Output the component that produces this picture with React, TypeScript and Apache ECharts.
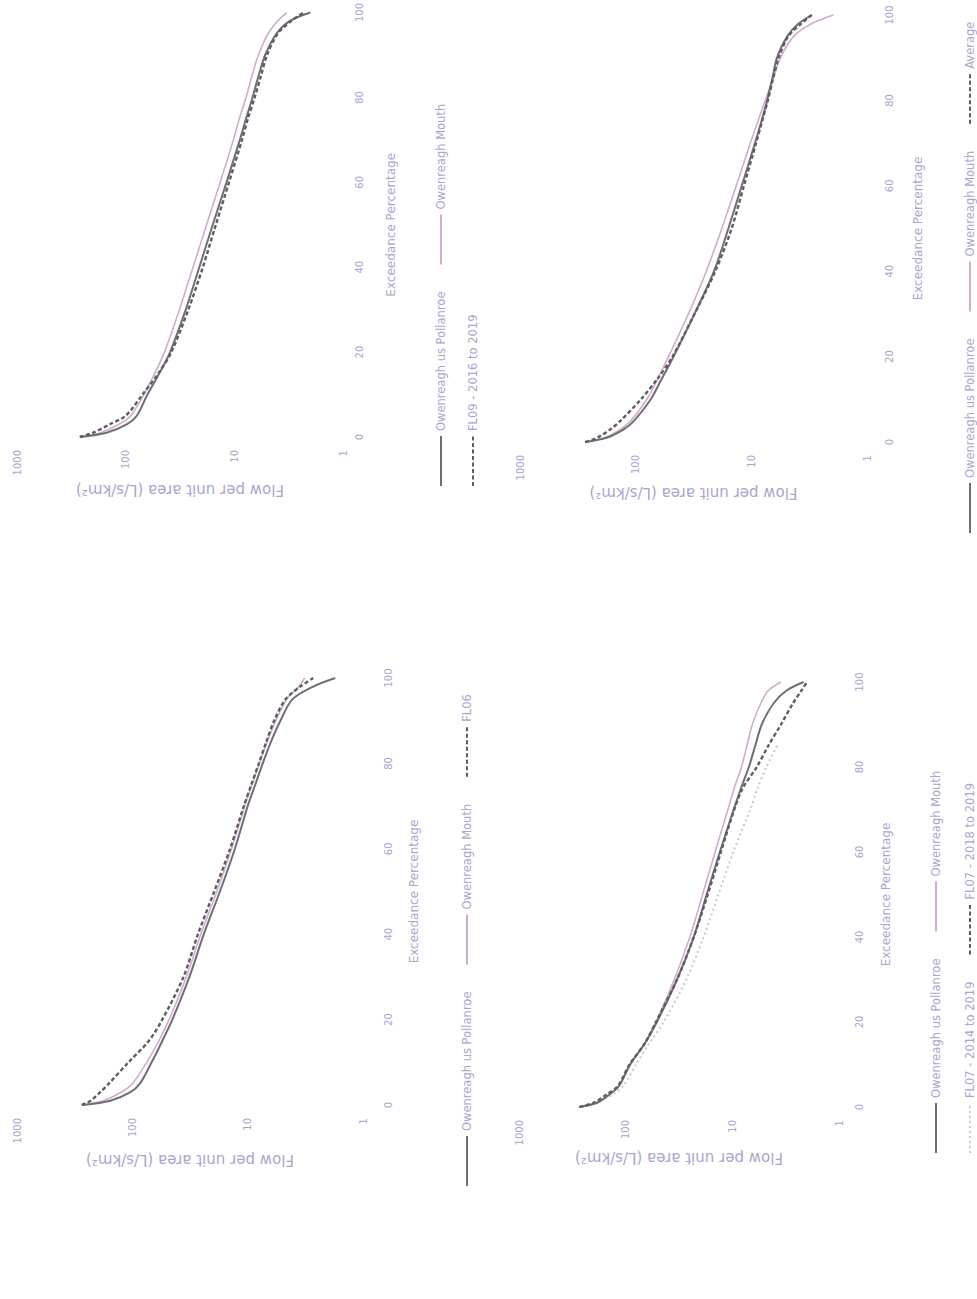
import React, { useEffect, useRef } from "react";
import * as echarts from "echarts";

// Exceedance percentages (x values shared by every curve)
const EXCEEDANCE = [0, 1, 3, 5, 10, 15, 20, 30, 40, 50, 60, 70, 75, 80, 85, 90, 95, 98, 100];
const EXCEEDANCE_TICKS = [0, 20, 40, 60, 80, 100];
const FLOW_TICKS = [1, 10, 100, 1000];

const NAME_POLLANROE = "Owenreagh us Pollanroe";
const NAME_MOUTH = "Owenreagh Mouth";
const NAME_FL06 = "FL06";
const NAME_FL09 = "FL09 - 2016 to 2019";
const NAME_FL07A = "FL07 - 2014 to 2019";
const NAME_FL07B = "FL07 - 2018 to 2019";
const NAME_AVG = "Average";

// FL06 panel (L/s/km²)
const FL06_POLLANROE = [270, 155, 104, 86, 68, 55, 45, 32, 24, 17.4, 12.9, 10.0, 8.6, 7.4, 6.3, 5.2, 4.1, 2.7, 1.74];
const FL06_MOUTH = [270, 180, 125, 100, 75, 59, 48, 34, 25.5, 18.5, 13.8, 10.6, 9.2, 7.9, 6.8, 5.7, 4.6, 3.6, 3.2];
const FL06_SITE = [275, 230, 190, 160, 108, 72, 55, 36, 27, 19.5, 14.2, 10.8, 9.3, 8.0, 6.9, 5.9, 4.7, 3.5, 2.7];

// FL09 panel
const FL09_POLLANROE = [263, 150, 98, 79, 63, 49, 39, 28, 21, 15.8, 11.8, 8.9, 7.8, 6.8, 6.0, 5.2, 4.1, 3.1, 2.0];
const FL09_MOUTH = [255, 170, 115, 90, 68, 54, 44, 32, 24, 18, 13.5, 10.2, 9.0, 7.8, 6.9, 6.0, 4.9, 4.0, 3.3];
const FL09_SITE = [265, 200, 140, 100, 70, 50, 38, 26.5, 19.5, 14.8, 11.2, 8.5, 7.5, 6.5, 5.7, 5.0, 4.0, 3.0, 2.3];

// FL07 panel
const FL07_POLLANROE = [274, 186, 141, 115, 91, 66, 51, 33, 23, 17.4, 13.1, 9.7, 8.3, 7.0, 6.1, 5.3, 4.1, 3.1, 2.15];
const FL07_MOUTH = [270, 180, 140, 115, 90, 66, 52, 35, 25, 19, 14.5, 11, 9.6, 8.2, 7.3, 6.5, 5.4, 4.6, 3.5];
const FL07_SITE_A = [null, 190, 130, 105, 80, 60, 44, 27, 18.6, 13.5, 9.8, 6.8, 5.8, 4.8, 3.8, null, null, null, null];
const FL07_SITE_B = [270, 200, 150, 118, 92, 66, 52, 33, 23, 17, 12.8, 9.6, 8.0, 5.9, 4.6, 3.5, 2.7, 2.25, 2.0];

// Average panel
const AVG_POLLANROE = [275, 178, 126, 103, 74, 59, 47, 31, 21, 15.8, 12.1, 9.3, 8.2, 7.3, 6.6, 6.0, 4.9, 3.9, 3.0];
const AVG_MOUTH = [270, 185, 135, 110, 80, 64, 52, 35, 24.5, 18, 13.5, 10.2, 8.8, 7.6, 6.5, 5.6, 4.3, 3.0, 1.95];
const AVG_SITE = [272, 215, 165, 135, 90, 64, 48, 31, 20.5, 14.8, 11.6, 9.1, 8.1, 7.2, 6.5, 5.8, 4.8, 3.7, 3.0];

const TEXT = "#aba4cf";
const FONT = "DejaVu Sans";

const pairs = (vals: (number | null)[]) =>
  EXCEEDANCE.map((e, i) => [e, vals[i]]).filter((p) => p[1] !== null);

const STYLE: Record<string, any> = {
  pollanroe: { color: "#6f6e78", width: 2, type: "solid" },
  mouth: { color: "#d3abcc", width: 1.6, type: "solid" },
  site: { color: "#5e5e62", width: 2.4, type: [4, 2.5] },
  siteLight: { color: "#c9c8d0", width: 2, type: [2, 3] },
};

function line(name: string, vals: (number | null)[], grid: number, style: any, z = 2) {
  return {
    type: "line",
    name,
    xAxisIndex: grid,
    yAxisIndex: grid,
    data: pairs(vals),
    smooth: 0.3,
    showSymbol: false,
    symbol: "none",
    z,
    color: style.color,
    lineStyle: { color: style.color, width: style.width, type: style.type },
  };
}

// layout of the unrotated page (1299 x 977)
const GRIDS = [
  { left: 194, top: 17, width: 427, height: 346, labelMargin: 20, xGap: 45, yGap: 47 }, // FL06
  { left: 862, top: 17, width: 425, height: 326, labelMargin: 11, xGap: 42, yGap: 45 }, // FL09
  { left: 192, top: 519, width: 425, height: 320, labelMargin: 15, xGap: 41, yGap: 43 }, // FL07
  { left: 857, top: 520, width: 427, height: 347, labelMargin: 17, xGap: 45, yGap: 43 }, // Average
];

export default function App() {
  const ref = useRef<HTMLDivElement>(null);
  useEffect(() => {
    if (!ref.current) return;
    const chart = echarts.init(ref.current, undefined, { renderer: "svg" });
    const labelStyle = { color: TEXT, fontSize: 10, fontFamily: FONT };
    const nameStyle = { color: TEXT, fontSize: 12, fontFamily: FONT };
    const xAxis = GRIDS.map((g, i) => ({
      type: "value",
      gridIndex: i,
      min: EXCEEDANCE_TICKS[0],
      max: EXCEEDANCE_TICKS[EXCEEDANCE_TICKS.length - 1],
      interval: 20,
      name: "Exceedance Percentage",
      nameLocation: "middle",
      nameGap: g.xGap,
      nameTextStyle: nameStyle,
      axisLine: { show: false },
      axisTick: { show: false },
      splitLine: { show: false },
      axisLabel: { ...labelStyle, margin: g.labelMargin },
    }));
    const yAxis = GRIDS.map((g, i) => ({
      type: "log",
      logBase: 10,
      gridIndex: i,
      min: FLOW_TICKS[0],
      max: FLOW_TICKS[FLOW_TICKS.length - 1],
      name: "Flow per unit area (L/s/km²)",
      nameLocation: "middle",
      nameGap: g.yGap,
      nameTextStyle: { ...nameStyle, fontSize: 15 },
      axisLine: { show: false },
      axisTick: { show: false },
      splitLine: { show: false },
      minorTick: { show: false },
      axisLabel: { ...labelStyle, margin: 13, formatter: (v: number) => String(Math.round(v)) },
    }));
    const legendBase = {
      orient: "horizontal",
      itemWidth: 50,
      itemHeight: 10,
      itemGap: 26,
      itemStyle: { opacity: 0 },
      textStyle: { color: TEXT, fontSize: 11.5, fontFamily: FONT },
      padding: 0,
      selectedMode: false,
    };
    const option = {
      animation: false,
      backgroundColor: "#ffffff",
      grid: GRIDS.map((g) => ({ left: g.left, top: g.top, width: g.width, height: g.height })),
      xAxis,
      yAxis,
      legend: [
        { ...legendBase, left: 112, top: 461, data: [NAME_POLLANROE, NAME_MOUTH, NAME_FL06] },
        { ...legendBase, left: 812, top: 435, data: [NAME_POLLANROE, NAME_MOUTH] },
        { ...legendBase, left: 812, top: 467, data: [NAME_FL09] },
        { ...legendBase, left: 145, top: 930, data: [NAME_POLLANROE, NAME_MOUTH] },
        { ...legendBase, left: 145, top: 964, data: [NAME_FL07A, NAME_FL07B] },
        { ...legendBase, left: 765, top: 964, data: [NAME_POLLANROE, NAME_MOUTH, NAME_AVG] },
      ],
      series: [
        line(NAME_POLLANROE, FL06_POLLANROE, 0, STYLE.pollanroe, 3),
        line(NAME_MOUTH, FL06_MOUTH, 0, STYLE.mouth, 2),
        line(NAME_FL06, FL06_SITE, 0, STYLE.site, 4),
        line(NAME_POLLANROE, FL09_POLLANROE, 1, STYLE.pollanroe, 3),
        line(NAME_MOUTH, FL09_MOUTH, 1, STYLE.mouth, 2),
        line(NAME_FL09, FL09_SITE, 1, STYLE.site, 4),
        line(NAME_POLLANROE, FL07_POLLANROE, 2, STYLE.pollanroe, 3),
        line(NAME_MOUTH, FL07_MOUTH, 2, STYLE.mouth, 2),
        line(NAME_FL07A, FL07_SITE_A, 2, STYLE.siteLight, 1),
        line(NAME_FL07B, FL07_SITE_B, 2, STYLE.site, 4),
        line(NAME_POLLANROE, AVG_POLLANROE, 3, STYLE.pollanroe, 3),
        line(NAME_MOUTH, AVG_MOUTH, 3, STYLE.mouth, 2),
        line(NAME_AVG, AVG_SITE, 3, STYLE.site, 4),
      ],
    };
    chart.setOption(option as any);
    return () => chart.dispose();
  }, []);

  return (
    <div
      style={{
        position: "absolute",
        left: 0,
        top: 0,
        width: 977,
        height: 1299,
        overflow: "hidden",
        background: "#ffffff",
      }}
    >
      <div
        ref={ref}
        style={{
          position: "absolute",
          left: 0,
          top: 0,
          width: 1299,
          height: 977,
          transformOrigin: "0 0",
          transform: "translate(0px, 1299px) rotate(-90deg)",
        }}
      />
    </div>
  );
}
